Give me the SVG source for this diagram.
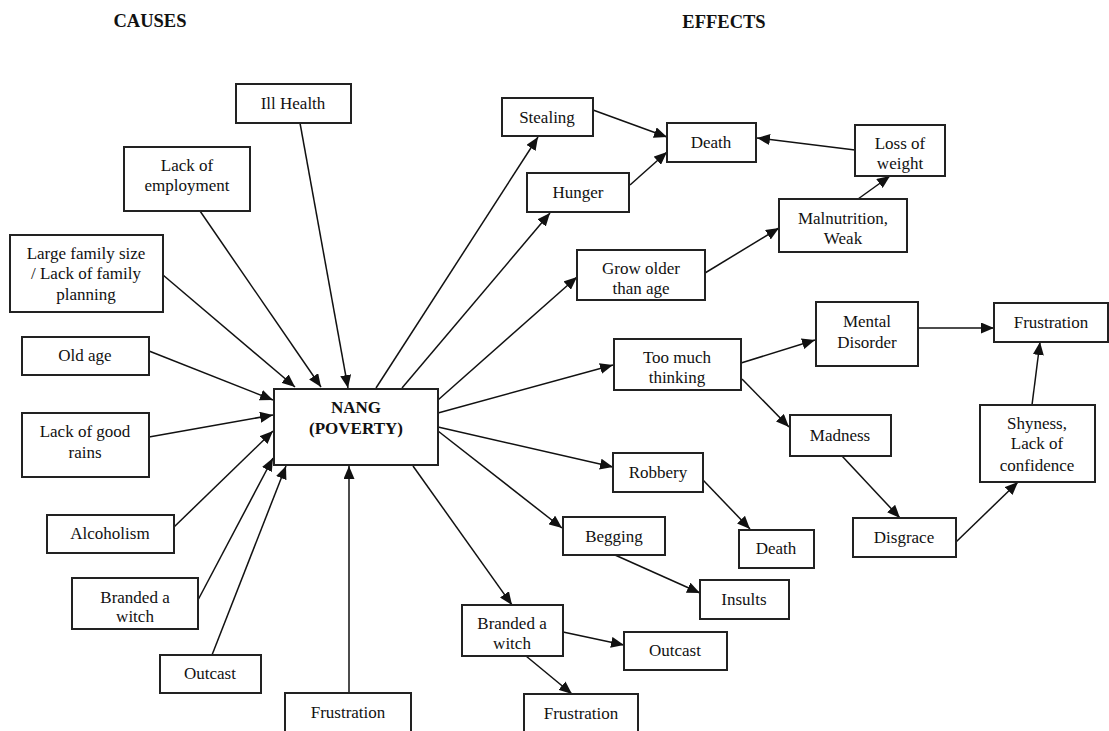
<svg xmlns="http://www.w3.org/2000/svg" width="1109" height="731" viewBox="0 0 1109 731">
<style>
.box{fill:#fff;stroke:#222;stroke-width:2}
.t{font-family:"Liberation Serif","Times New Roman",serif;font-size:17px;fill:#111;text-anchor:middle}
.b{font-family:"Liberation Serif","Times New Roman",serif;font-size:17px;font-weight:bold;fill:#111;text-anchor:middle}
.h{font-family:"Liberation Serif","Times New Roman",serif;font-size:18.5px;font-weight:bold;fill:#111;text-anchor:middle}
.c{stroke:#111;stroke-width:1.5;fill:none;marker-end:url(#ah)}
</style>
<defs>
<marker id="ah" markerUnits="userSpaceOnUse" markerWidth="14" markerHeight="11" refX="13" refY="5.5" orient="auto">
<path d="M0,0 L13,5.5 L0,11 z" fill="#111"/>
</marker>
</defs>
<rect width="1109" height="731" fill="#fff"/>
<text class="h" x="150" y="27">CAUSES</text>
<text class="h" x="724" y="28">EFFECTS</text>

<g id="connectors">
<line class="c" x1="300" y1="123" x2="348" y2="388"/>
<line class="c" x1="200" y1="211" x2="321" y2="387"/>
<line class="c" x1="163" y1="275" x2="295" y2="387"/>
<line class="c" x1="149" y1="351" x2="273" y2="400"/>
<line class="c" x1="149" y1="437" x2="273" y2="415"/>
<line class="c" x1="174" y1="527" x2="273" y2="431"/>
<line class="c" x1="198" y1="600" x2="273" y2="458"/>
<line class="c" x1="212" y1="655" x2="286" y2="466"/>
<line class="c" x1="349" y1="693" x2="349" y2="466"/>
<line class="c" x1="376" y1="388" x2="538" y2="137"/>
<line class="c" x1="402" y1="388" x2="550" y2="213"/>
<line class="c" x1="438" y1="400" x2="577" y2="277"/>
<line class="c" x1="438" y1="413" x2="613" y2="365"/>
<line class="c" x1="438" y1="427" x2="613" y2="467"/>
<line class="c" x1="438" y1="431" x2="562" y2="528"/>
<line class="c" x1="413" y1="466" x2="512" y2="605"/>
<line class="c" x1="593" y1="110" x2="667" y2="137"/>
<line class="c" x1="630" y1="185" x2="667" y2="152"/>
<line class="c" x1="855" y1="150" x2="757" y2="138"/>
<line class="c" x1="858" y1="199" x2="890" y2="176"/>
<line class="c" x1="705" y1="273" x2="779" y2="228"/>
<line class="c" x1="741" y1="363" x2="815" y2="340"/>
<line class="c" x1="742" y1="379" x2="789" y2="427"/>
<line class="c" x1="918" y1="328" x2="994" y2="328"/>
<line class="c" x1="842" y1="456" x2="900" y2="518"/>
<line class="c" x1="956" y1="542" x2="1018" y2="482"/>
<line class="c" x1="1032" y1="405" x2="1040" y2="342"/>
<line class="c" x1="703" y1="480" x2="750" y2="529"/>
<line class="c" x1="615" y1="555" x2="700" y2="593"/>
<line class="c" x1="563" y1="632" x2="624" y2="645"/>
<line class="c" x1="526" y1="656" x2="572" y2="694"/>
</g>

<g id="ill-health"><rect class="box" x="236" y="84" width="115" height="39"/><text class="t" x="293" y="109">Ill Health</text></g>
<g id="lack-employment"><rect class="box" x="124" y="147" width="126" height="64"/><text class="t" x="187" y="171">Lack of</text><text class="t" x="187" y="191">employment</text></g>
<g id="large-family"><rect class="box" x="10" y="235" width="153" height="77"/><text class="t" x="86" y="259">Large family size</text><text class="t" x="86" y="279">/ Lack of family</text><text class="t" x="86" y="300">planning</text></g>
<g id="old-age"><rect class="box" x="22" y="337" width="127" height="38"/><text class="t" x="85" y="361">Old age</text></g>
<g id="lack-rains"><rect class="box" x="22" y="413" width="127" height="64"/><text class="t" x="85" y="437">Lack of good</text><text class="t" x="85" y="458">rains</text></g>
<g id="alcoholism"><rect class="box" x="47" y="515" width="127" height="38"/><text class="t" x="110" y="539">Alcoholism</text></g>
<g id="branded-left"><rect class="box" x="72" y="578" width="126" height="51"/><text class="t" x="135" y="603">Branded a</text><text class="t" x="135" y="622">witch</text></g>
<g id="outcast-left"><rect class="box" x="160" y="655" width="101" height="38"/><text class="t" x="210" y="679">Outcast</text></g>
<g id="frustration-bottom"><rect class="box" x="285" y="693" width="126" height="40"/><text class="t" x="348" y="718">Frustration</text></g>
<g id="nang"><rect class="box" x="274" y="389" width="164" height="76"/><text class="b" x="356" y="413">NANG</text><text class="b" x="356" y="434">(POVERTY)</text></g>

<g id="stealing"><rect class="box" x="502" y="98" width="91" height="38"/><text class="t" x="547" y="123">Stealing</text></g>
<g id="hunger"><rect class="box" x="527" y="173" width="102" height="39"/><text class="t" x="578" y="198">Hunger</text></g>
<g id="death-top"><rect class="box" x="667" y="123" width="89" height="39"/><text class="t" x="711" y="148">Death</text></g>
<g id="loss-weight"><rect class="box" x="855" y="125" width="90" height="51"/><text class="t" x="900" y="149">Loss of</text><text class="t" x="900" y="169">weight</text></g>
<g id="malnutrition"><rect class="box" x="779" y="199" width="128" height="53"/><text class="t" x="843" y="224">Malnutrition,</text><text class="t" x="843" y="244">Weak</text></g>
<g id="grow-older"><rect class="box" x="577" y="250" width="128" height="50"/><text class="t" x="641" y="274">Grow older</text><text class="t" x="641" y="294">than age</text></g>
<g id="too-much-thinking"><rect class="box" x="614" y="339" width="127" height="51"/><text class="t" x="677" y="363">Too much</text><text class="t" x="677" y="383">thinking</text></g>
<g id="mental-disorder"><rect class="box" x="816" y="302" width="102" height="64"/><text class="t" x="867" y="327">Mental</text><text class="t" x="867" y="348">Disorder</text></g>
<g id="frustration-top"><rect class="box" x="994" y="303" width="114" height="39"/><text class="t" x="1051" y="328">Frustration</text></g>
<g id="madness"><rect class="box" x="790" y="415" width="101" height="41"/><text class="t" x="840" y="441">Madness</text></g>
<g id="shyness"><rect class="box" x="980" y="405" width="115" height="77"/><text class="t" x="1037" y="429">Shyness,</text><text class="t" x="1037" y="449">Lack of</text><text class="t" x="1037" y="471">confidence</text></g>
<g id="disgrace"><rect class="box" x="853" y="518" width="103" height="39"/><text class="t" x="904" y="543">Disgrace</text></g>
<g id="robbery"><rect class="box" x="613" y="453" width="90" height="39"/><text class="t" x="658" y="478">Robbery</text></g>
<g id="death-low"><rect class="box" x="739" y="530" width="75" height="38"/><text class="t" x="776" y="554">Death</text></g>
<g id="begging"><rect class="box" x="563" y="517" width="102" height="38"/><text class="t" x="614" y="542">Begging</text></g>
<g id="insults"><rect class="box" x="700" y="580" width="89" height="39"/><text class="t" x="744" y="605">Insults</text></g>
<g id="branded-right"><rect class="box" x="462" y="605" width="101" height="51"/><text class="t" x="512" y="629">Branded a</text><text class="t" x="512" y="649">witch</text></g>
<g id="outcast-right"><rect class="box" x="624" y="632" width="103" height="38"/><text class="t" x="675" y="656">Outcast</text></g>
<g id="frustration-low"><rect class="box" x="524" y="694" width="114" height="40"/><text class="t" x="581" y="719">Frustration</text></g>
</svg>
